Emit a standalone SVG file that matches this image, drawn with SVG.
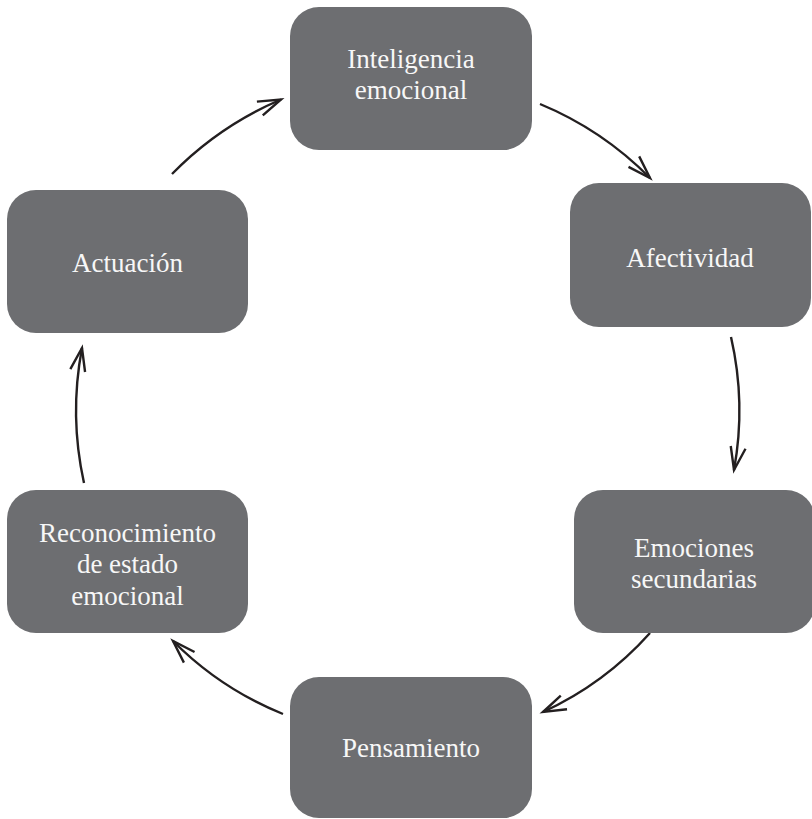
<svg xmlns="http://www.w3.org/2000/svg" width="812" height="819" viewBox="0 0 812 819">
<defs>
<marker id="ah" markerUnits="userSpaceOnUse" markerWidth="40" markerHeight="40" viewBox="-30 -15 40 30" refX="0" refY="0" orient="auto">
<path d="M-23,-7.5 L0,0 L-23,7.5" fill="none" stroke="#231f20" stroke-width="2.4" stroke-linecap="butt" stroke-linejoin="miter"/>
</marker>
</defs>
<style>
.box{fill:#6d6e71}
.t{fill:#f7f7f7;font-family:"Liberation Serif","Times New Roman",serif;font-size:27px;text-anchor:middle}
.c{fill:none;stroke:#231f20;stroke-width:2.4;marker-end:url(#ah)}
</style>
<rect width="812" height="819" fill="#ffffff"/>
<g id="connectors">
<path class="c" d="M172,174 A337,337 0 0 1 281,99.5"/>
<path class="c" d="M540,104 A334,334 0 0 1 650,178"/>
<path class="c" d="M731,337 A330,330 0 0 1 734,470"/>
<path class="c" d="M650,633 A327,327 0 0 1 543,712"/>
<path class="c" d="M283,714 A329,329 0 0 1 173,641"/>
<path class="c" d="M84,483 A335,335 0 0 1 82,348"/>
</g>
<g id="n-inteligencia">
<rect class="box" x="290" y="7" width="242" height="143" rx="29"/>
<text class="t" x="411" y="68">Inteligencia</text>
<text class="t" x="411" y="99">emocional</text>
</g>
<g id="n-afectividad">
<rect class="box" x="570" y="183" width="241" height="144" rx="29"/>
<text class="t" x="690" y="267">Afectividad</text>
</g>
<g id="n-emociones">
<rect class="box" x="574" y="490" width="241" height="143" rx="29"/>
<text class="t" x="694" y="557">Emociones</text>
<text class="t" x="694" y="588">secundarias</text>
</g>
<g id="n-pensamiento">
<rect class="box" x="290" y="677" width="242" height="141" rx="29"/>
<text class="t" x="411" y="757">Pensamiento</text>
</g>
<g id="n-reconocimiento">
<rect class="box" x="7" y="490" width="241" height="143" rx="29"/>
<text class="t" x="127.5" y="542">Reconocimiento</text>
<text class="t" x="127.5" y="573">de estado</text>
<text class="t" x="127.5" y="605">emocional</text>
</g>
<g id="n-actuacion">
<rect class="box" x="7" y="190" width="241" height="143" rx="29"/>
<text class="t" x="127.5" y="272">Actuación</text>
</g>
</svg>
